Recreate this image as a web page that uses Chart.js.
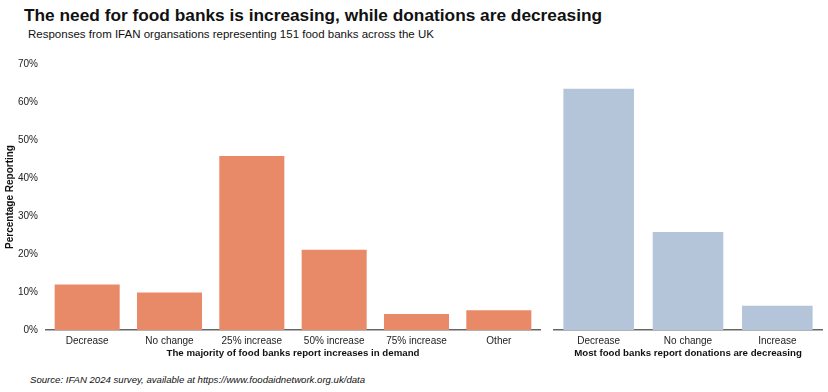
<!DOCTYPE html>
<html>
<head>
<meta charset="utf-8">
<script src="https://cdn.jsdelivr.net/npm/chart.js@4"></script>
<style>
  body { margin: 0; width: 828px; height: 392px; background: #fff; font-family: 'Liberation Sans', Arial, sans-serif; position: relative; overflow: hidden; }
  #title { position: absolute; left: 24px; top: 5px; font-size: 17.3px; font-weight: bold; color: #111; white-space: nowrap; }
  #subtitle { position: absolute; left: 28px; top: 28px; font-size: 11.5px; color: #111; white-space: nowrap; }
  #source { position: absolute; left: 30px; top: 374px; font-size: 9.6px; font-style: italic; color: #111; white-space: nowrap; }
  #demand { position: absolute; left: 0; top: 50px; }
  #donations { position: absolute; left: 548px; top: 50px; }
</style>
</head>
<body>
<div id="title">The need for food banks is increasing, while donations are decreasing</div>
<div id="subtitle">Responses from IFAN organsations representing 151 food banks across the UK</div>
<canvas id="demand" width="544" height="315"></canvas>
<canvas id="donations" width="280" height="315"></canvas>
<div id="source">Source: IFAN 2024 survey, available at https://www.foodaidnetwork.org.uk/data</div>
<script>
const demandLabels = ['Decrease', 'No change', '25% increase', '50% increase', '75% increase', 'Other']
const demandValues = [12.0, 9.9, 45.8, 21.1, 4.2, 5.2]

const donationLabels = ['Decrease', 'No change', 'Increase']
const donationValues = [62.8, 25.5, 6.3]

const yTicks = [0, 10, 20, 30, 40, 50, 60, 70]

const fontFamily = "'Liberation Sans', Arial, sans-serif"
const textColor = '#222'

function makeChart(ctx, labels, values, color, xTitle, showY) {
  return new Chart(ctx, {
    type: 'bar',
    data: {
      labels: labels,
      datasets: [{
        data: values,
        backgroundColor: color,
        borderWidth: 0,
        categoryPercentage: 1,
        barPercentage: 0.79
      }]
    },
    options: {
      responsive: false,
      animation: false,
      layout: {
        padding: showY ? { top: 11, right: 4, bottom: 6, left: 0 } : { top: 11, right: 6, bottom: 6, left: 6 }
      },
      plugins: {
        legend: { display: false },
        tooltip: { enabled: false }
      },
      scales: {
        x: {
          grid: { display: false, drawTicks: false },
          border: { display: true, color: '#666', width: 1.5 },
          ticks: { color: textColor, font: { family: fontFamily, size: 10 }, padding: 5 },
          title: {
            display: true,
            text: xTitle,
            color: '#111',
            font: { family: fontFamily, size: 9.7, weight: 'bold' },
            padding: { top: 0, bottom: 0 }
          },
          afterFit: scale => { scale.height = 29 }
        },
        y: {
          display: showY,
          min: 0,
          max: 70,
          afterBuildTicks: scale => { scale.ticks = yTicks.map(v => ({ value: v })) },
          grid: { display: false, drawTicks: false },
          border: { display: false },
          ticks: {
            color: textColor,
            font: { family: fontFamily, size: 10 },
            padding: 8,
            callback: v => v + '%'
          },
          title: {
            display: true,
            text: 'Percentage Reporting',
            color: '#111',
            font: { family: fontFamily, size: 10, weight: 'bold' },
            padding: { top: 4, bottom: 0 }
          },
          afterFit: scale => { scale.width = showY ? 46 : 0 }
        }
      }
    }
  })
}

makeChart(document.getElementById('demand'), demandLabels, demandValues,
  'rgb(232, 137, 104)', 'The majority of food banks report increases in demand', true)
makeChart(document.getElementById('donations'), donationLabels, donationValues,
  'rgb(180, 196, 217)', 'Most food banks report donations are decreasing', false)
</script>
</body>
</html>
